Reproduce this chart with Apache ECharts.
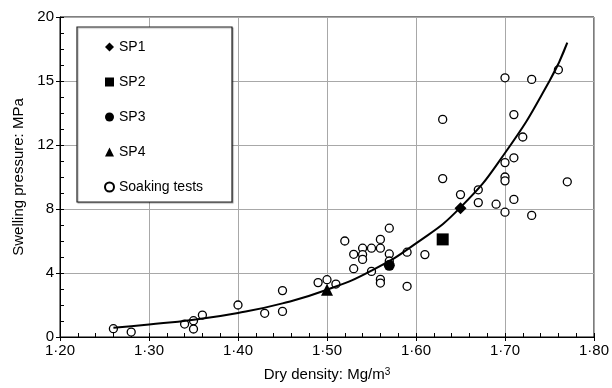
<!DOCTYPE html>
<html>
<head>
<meta charset="utf-8">
<script src="https://cdn.jsdelivr.net/npm/echarts@6/dist/echarts.min.js"></script>
<style>
  html, body { margin: 0; padding: 0; background: #fff; }
  #main { width: 612px; height: 388px; }
</style>
</head>
<body>
<div id="main"></div>
<script>
// values
var sp1 = [[1.65, 8.05]];
var sp2 = [[1.63, 6.1]];
var sp3 = [[1.57, 4.48]];
var sp4 = [[1.50, 2.95]];

var soakingX = [1.26, 1.28, 1.34, 1.35, 1.35, 1.36, 1.40, 1.43, 1.45, 1.45,
  1.49, 1.50, 1.51, 1.52, 1.53, 1.53, 1.54, 1.54, 1.54, 1.55, 1.55,
  1.56, 1.56, 1.56, 1.56, 1.57, 1.57, 1.57, 1.59, 1.59, 1.61,
  1.63, 1.63, 1.65, 1.67, 1.67, 1.69, 1.70, 1.70, 1.70, 1.70, 1.70,
  1.71, 1.71, 1.71, 1.72, 1.73, 1.73, 1.76, 1.77];
var soakingY = [0.52, 0.31, 0.81, 1.02, 0.5, 1.37, 2.0, 1.48, 2.9, 1.6,
  3.4, 3.58, 3.31, 6.0, 5.17, 4.27, 5.55, 5.15, 4.85, 5.55, 4.1,
  5.55, 6.1, 3.6, 3.37, 5.19, 6.8, 4.75, 5.3, 3.17, 5.15,
  13.6, 9.9, 8.9, 9.2, 8.4, 8.3, 16.2, 10.9, 10.0, 9.76, 7.8,
  13.9, 11.2, 8.6, 12.5, 16.1, 7.6, 16.7, 9.7];

var curveX = [1.26, 1.30, 1.35, 1.40, 1.45, 1.50, 1.55, 1.60, 1.65, 1.70, 1.75, 1.77];
var curveY = [0.58, 0.78, 1.08, 1.5, 2.1, 2.95, 4.15, 5.85, 8.1, 11.5, 16.0, 18.4];

var yTicks = [0, 4, 8, 12, 16, 20];
var yTickText = ['0', '4', '8', '12', '15', '20'];

var legendNames = ['SP1', 'SP2', 'SP3', 'SP4', 'Soaking tests'];

var font = 'Liberation Sans, Arial, Helvetica, sans-serif';

function pairs(xs, ys) {
  var out = [];
  for (var i = 0; i < xs.length; i++) out.push([xs[i], ys[i]]);
  return out;
}

var myChart = echarts.init(document.getElementById('main'));
myChart.setOption({
  animation: false,
  backgroundColor: '#fff',
  textStyle: { fontFamily: font, color: '#000' },
  grid: {
    left: 60, right: 15, top: 17, bottom: 51,
    show: true, borderColor: '#000', borderWidth: 1
  },
  graphic: [
    {
      type: 'rect',
      shape: { x: 77, y: 27, width: 155, height: 175 },
      style: {
        fill: '#fff', stroke: '#222', lineWidth: 1.2,
        shadowColor: 'rgba(0,0,0,0.3)', shadowOffsetX: 1, shadowOffsetY: 1, shadowBlur: 1
      },
      z: 50
    }
  ],
  legend: {
    data: legendNames,
    orient: 'vertical',
    left: 104,
    top: 39,
    padding: 0,
    itemGap: 19,
    itemWidth: 9,
    itemHeight: 9,
    textStyle: { fontSize: 14, lineHeight: 16, color: '#000', fontFamily: font },
    z: 60
  },
  xAxis: [
    {
      type: 'value',
      min: 1.2, max: 1.8, interval: 0.1,
      name: 'Dry density: Mg/m{sup|3}',
      nameLocation: 'middle',
      nameGap: 30,
      nameTextStyle: {
        fontSize: 15, color: '#000',
        rich: { sup: { fontSize: 10, verticalAlign: 'top', lineHeight: 10, padding: [0, 0, 6, 0] } }
      },
      axisLine: { lineStyle: { color: '#000', width: 1 } },
      axisTick: { inside: false, length: 4, lineStyle: { color: '#000' } },
      axisLabel: {
        fontSize: 15, color: '#000', margin: 6,
        formatter: function (v) { return v.toFixed(2).replace('.', '·'); }
      },
      splitLine: { show: true, lineStyle: { color: '#a8a8a8', width: 1 } }
    },
    {
      type: 'value',
      min: 1.2, max: 1.8, interval: 0.02,
      position: 'bottom',
      axisLine: { show: false },
      axisTick: { inside: true, length: 4, lineStyle: { color: '#000' } },
      axisLabel: { show: false },
      splitLine: { show: false }
    }
  ],
  yAxis: [
    {
      type: 'value',
      min: 0, max: 20, interval: 4,
      name: 'Swelling pressure: MPa',
      nameLocation: 'middle',
      nameGap: 32,
      nameTextStyle: { fontSize: 15, color: '#000' },
      axisLine: { show: true, lineStyle: { color: '#000', width: 1 } },
      axisTick: { show: true, inside: false, length: 4, lineStyle: { color: '#000' } },
      axisLabel: {
        fontSize: 15, color: '#000', margin: 6,
        formatter: function (v) {
          var i = yTicks.indexOf(v);
          return i >= 0 ? yTickText[i] : '';
        }
      },
      splitLine: { show: true, lineStyle: { color: '#a8a8a8', width: 1 } }
    },
    {
      type: 'value',
      min: 0, max: 20, interval: 1,
      position: 'left',
      axisLine: { show: false },
      axisTick: { show: true, inside: true, length: 4, lineStyle: { color: '#000' } },
      axisLabel: { show: false },
      splitLine: { show: false }
    }
  ],
  series: [
    {
      name: 'Soaking tests',
      type: 'scatter',
      symbol: 'circle',
      symbolSize: 8,
      itemStyle: { color: '#fff', borderColor: '#000', borderWidth: 1.3, opacity: 1 },
      data: pairs(soakingX, soakingY),
      z: 3
    },
    {
      name: 'fit',
      type: 'line',
      smooth: true,
      showSymbol: false,
      lineStyle: { color: '#000', width: 2 },
      data: pairs(curveX, curveY),
      z: 4
    },
    {
      name: 'SP1', type: 'scatter', symbol: 'diamond', symbolSize: 12,
      itemStyle: { color: '#000', opacity: 1 }, data: sp1, z: 5
    },
    {
      name: 'SP2', type: 'scatter', symbol: 'rect', symbolSize: 12,
      itemStyle: { color: '#000', opacity: 1 }, data: sp2, z: 5
    },
    {
      name: 'SP3', type: 'scatter', symbol: 'circle', symbolSize: 11,
      itemStyle: { color: '#000', opacity: 1 }, data: sp3, z: 5
    },
    {
      name: 'SP4', type: 'scatter', symbol: 'triangle', symbolSize: [12, 12],
      itemStyle: { color: '#000', opacity: 1 }, data: sp4, z: 5
    }
  ]
});
</script>
</body>
</html>
